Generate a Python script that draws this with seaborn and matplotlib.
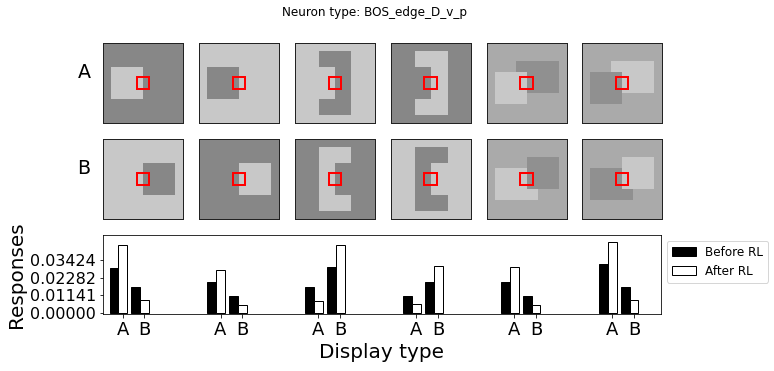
import numpy as np
import pandas as pd
import matplotlib
matplotlib.use("Agg")
import matplotlib.pyplot as plt
from matplotlib.patches import Rectangle, Patch
import seaborn as sns

# =========================================================
# DATA
# =========================================================

neuron_type = "BOS_edge_D_v_p"
display_types = ["A", "B"]
conditions = ["Before RL", "After RL"]

# responses per stimulus pair (6 pairs)
before_A = [0.0293, 0.0197, 0.0165, 0.0107, 0.0201, 0.0313]
after_A  = [0.0439, 0.0278, 0.0079, 0.0060, 0.0297, 0.0458]
before_B = [0.0165, 0.0107, 0.0300, 0.0201, 0.0107, 0.0165]
after_B  = [0.0084, 0.0054, 0.0439, 0.0304, 0.0054, 0.0084]

y_ticks = [0.0, 0.01141, 0.02282, 0.03424]

# gray levels of the stimuli
DARK, LIGHT, MID, DARK2 = 0.53, 0.785, 0.667, 0.565

# stimuli: background + list of rectangles (x0, x1, y0, y1, gray), fractions of the image
scenes_A = [
    (DARK,  [(0.10, 0.50, 0.30, 0.70, LIGHT)]),
    (LIGHT, [(0.10, 0.50, 0.30, 0.70, DARK)]),
    (LIGHT, [(0.30, 0.70, 0.10, 0.90, DARK), (0.30, 0.50, 0.30, 0.70, LIGHT)]),
    (DARK,  [(0.30, 0.70, 0.10, 0.90, LIGHT), (0.30, 0.50, 0.30, 0.70, DARK)]),
    (MID,   [(0.36, 0.90, 0.23, 0.63, DARK2), (0.10, 0.50, 0.36, 0.76, LIGHT)]),
    (MID,   [(0.36, 0.90, 0.23, 0.63, LIGHT), (0.10, 0.50, 0.36, 0.76, DARK2)]),
]
scenes_B = [
    (LIGHT, [(0.50, 0.90, 0.30, 0.70, DARK)]),
    (DARK,  [(0.50, 0.90, 0.30, 0.70, LIGHT)]),
    (DARK,  [(0.30, 0.70, 0.10, 0.90, LIGHT), (0.50, 0.70, 0.30, 0.70, DARK)]),
    (LIGHT, [(0.30, 0.70, 0.10, 0.90, DARK), (0.50, 0.70, 0.30, 0.70, LIGHT)]),
    (MID,   [(0.10, 0.64, 0.36, 0.76, LIGHT), (0.50, 0.90, 0.23, 0.63, DARK2)]),
    (MID,   [(0.10, 0.64, 0.36, 0.76, DARK2), (0.50, 0.90, 0.23, 0.63, LIGHT)]),
]

# =========================================================
# STYLE
# =========================================================

sns.set_style("ticks")
plt.rcParams["font.family"] = ["DejaVu Sans"]
plt.rcParams.update({
    "axes.edgecolor": "black",
    "axes.linewidth": 0.8,
    "text.color": "black",
    "axes.labelcolor": "black",
    "xtick.color": "black",
    "ytick.color": "black",
    "xtick.major.size": 3.5,
    "ytick.major.size": 3.5,
    "xtick.major.width": 0.8,
    "ytick.major.width": 0.8,
})

W, H = 774, 371
DPI = 72
fig = plt.figure(figsize=(W / DPI, H / DPI), dpi=DPI)


def px_axes(x0, y0, x1, y1):
    # axes from pixel box (top-left origin)
    return fig.add_axes([x0 / W, 1 - y1 / H, (x1 - x0) / W, (y1 - y0) / H])


def render(bg, rects, n=240):
    img = np.full((n, n), bg)
    for x0, x1, y0, y1, g in rects:
        img[int(round(y0 * n)):int(round(y1 * n)), int(round(x0 * n)):int(round(x1 * n))] = g
    return img

# =========================================================
# STIMULUS IMAGES
# =========================================================

col_left = [103.3 + 95.8 * i for i in range(6)]
row_top = [43.3, 139.3]

for r, scenes in enumerate([scenes_A, scenes_B]):
    for c, (bg, rects) in enumerate(scenes):
        ax = px_axes(col_left[c], row_top[r], col_left[c] + 80, row_top[r] + 80)
        ax.imshow(render(bg, rects), cmap="gray", vmin=0, vmax=1,
                  extent=(0, 1, 1, 0), interpolation="nearest")
        ax.add_patch(Rectangle((0.42, 0.42), 0.155, 0.155, fill=False,
                               edgecolor="red", linewidth=2))
        ax.set_xticks([])
        ax.set_yticks([])
        for s in ax.spines.values():
            s.set_color("#222222")
            s.set_linewidth(1)

fig.text(84 / W, 1 - 72 / H, "A", fontsize=19, ha="center", va="center")
fig.text(84 / W, 1 - 168.5 / H, "B", fontsize=19, ha="center", va="center")

fig.text(374 / W, 1 - 12.5 / H, f"Neuron type: {neuron_type}",
         fontsize=12, ha="center", va="center")

# =========================================================
# RESPONSE BARS
# =========================================================

gap = 4.5
tick_pos = []
rows = []
for i in range(6):
    for k, (bef, aft) in enumerate([(before_A[i], after_A[i]), (before_B[i], after_B[i])]):
        t = gap * i + k
        tick_pos.append(t)
        rows.append({"pos": t - 0.2, "resp": bef, "cond": conditions[0]})
        rows.append({"pos": t - 0.2, "resp": aft, "cond": conditions[1]})
df = pd.DataFrame(rows)

ax = px_axes(103, 235, 661, 314)
sns.barplot(
    data=df, x="pos", y="resp", hue="cond", hue_order=conditions,
    native_scale=True, width=0.8, errorbar=None, saturation=1,
    palette={"Before RL": "black", "After RL": "white"},
    edgecolor="black", linewidth=1, legend=False, ax=ax,
)

ax.set_xlim(-0.9, 24.74)
ax.set_ylim(-0.0006, 0.0503)
ax.set_xticks(tick_pos)
ax.set_xticklabels(display_types * 6, fontsize=18)
ax.set_yticks(y_ticks)
ax.set_yticklabels([f"{v:.5f}" for v in y_ticks], fontsize=16)
ax.set_xlabel("Display type", fontsize=20)
ax.set_ylabel("Responses", fontsize=20)

handles = [
    Patch(facecolor="black", edgecolor="black", label=conditions[0]),
    Patch(facecolor="white", edgecolor="black", label=conditions[1]),
]
ax.legend(handles=handles, loc="upper left", bbox_to_anchor=(1.0, 1.0),
          fontsize=12, frameon=True)

fig.savefig("out.png", dpi=DPI)
